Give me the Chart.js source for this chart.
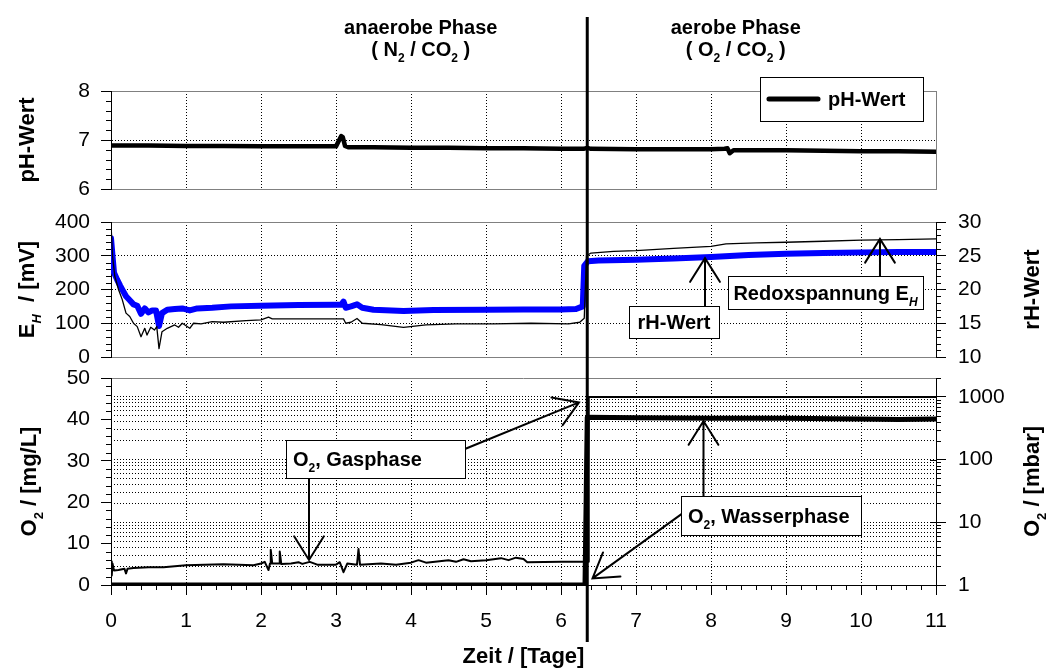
<!DOCTYPE html>
<html lang="de">
<head>
<meta charset="UTF-8">
<title>Anaerobe / aerobe Phase</title>
<script src="https://cdn.jsdelivr.net/npm/chart.js"></script>
<style>
    body { margin: 0; background: #fff; }
    #wrap { position: relative; width: 1048px; height: 671px; overflow: hidden; }
    #wrap canvas { position: absolute; left: 0; }
    #cPh { top: 0; }
    #cEh { top: 205px; }
    #cO2 { top: 368px; }
</style>
</head>
<body>
<div id="wrap">
    <canvas id="cPh" width="1048" height="205"></canvas>
    <canvas id="cEh" width="1048" height="163"></canvas>
    <canvas id="cO2" width="1048" height="303"></canvas>
</div>
<script>
// ---- data (x = Zeit in Tagen) ----
const phDays   = [0, 0.5, 1.0, 1.5, 2.0, 2.5, 3.0, 3.07, 3.09, 3.12, 3.17, 3.5, 4.0, 4.5, 5.0, 5.5, 6.0, 6.3, 6.35, 6.4, 7.0, 7.5, 8.0, 8.18, 8.22, 8.25, 8.3, 9.0, 9.5, 10.0, 10.5, 11.0];
const phValues = [6.89, 6.89, 6.88, 6.88, 6.87, 6.87, 6.87, 7.08, 7.06, 6.88, 6.85, 6.85, 6.84, 6.84, 6.83, 6.83, 6.82, 6.82, 6.84, 6.82, 6.81, 6.81, 6.81, 6.82, 6.83, 6.73, 6.79, 6.79, 6.78, 6.77, 6.77, 6.76];

// Redoxspannung E_H [mV] (thin black, left axis)
const ehDays   = [0, 0.02, 0.05, 0.1, 0.15, 0.2, 0.25, 0.3, 0.35, 0.4, 0.45, 0.48, 0.53, 0.58, 0.61, 0.64, 0.68, 0.75, 0.85, 0.9, 0.95, 1.05, 1.1, 1.2, 1.35, 1.5, 1.8, 2.0, 2.1, 2.15, 2.6, 3.1, 3.13, 3.2, 3.28, 3.35, 3.6, 3.9, 4.2, 4.6, 5.1, 5.6, 6.1, 6.25, 6.31, 6.34, 6.4, 6.7, 7.0, 7.5, 8.0, 8.2, 8.6, 9.0, 9.5, 10.0, 10.5, 11.0];
const ehValues = [395, 300, 240, 200, 170, 130, 120, 100, 90, 60, 85, 65, 88, 80, 90, 25, 75, 85, 95, 88, 100, 85, 100, 98, 105, 103, 108, 110, 118, 113, 113, 113, 100, 103, 114, 100, 96, 88, 95, 98, 98, 100, 98, 103, 115, 300, 308, 313, 315, 322, 328, 335, 338, 340, 343, 346, 348, 350];

// rH-Wert (thick blue, right axis)
const rhDays   = [0, 0.02, 0.04, 0.08, 0.12, 0.16, 0.2, 0.25, 0.3, 0.35, 0.4, 0.45, 0.5, 0.55, 0.6, 0.64, 0.68, 0.75, 0.85, 0.95, 1.05, 1.15, 1.35, 1.6, 2.0, 2.5, 3.0, 3.07, 3.1, 3.13, 3.2, 3.28, 3.35, 3.5, 3.9, 4.3, 5.0, 5.5, 6.0, 6.2, 6.29, 6.31, 6.36, 6.5, 7.0, 7.5, 8.0, 8.5, 9.0, 9.5, 10.0, 10.5, 11.0];
const rhValues = [27.6, 25.0, 22.5, 21.5, 20.6, 19.8, 19.0, 18.4, 17.8, 17.6, 16.4, 17.2, 16.6, 16.9, 16.9, 14.6, 16.5, 17.0, 17.1, 17.2, 16.9, 17.2, 17.3, 17.5, 17.6, 17.7, 17.75, 17.75, 18.2, 17.3, 17.5, 17.8, 17.3, 17.0, 16.8, 16.95, 17.0, 17.05, 17.05, 17.1, 17.5, 23.5, 24.2, 24.3, 24.4, 24.6, 24.8, 25.1, 25.3, 25.4, 25.5, 25.55, 25.55];

// O2 Gasphase [mbar] (thin black, right log axis)
const gasDays   = [0, 0.01, 0.02, 0.04, 0.1, 0.18, 0.2, 0.22, 0.3, 0.5, 0.7, 1.0, 1.5, 1.9, 2.0, 2.05, 2.1, 2.12, 2.13, 2.15, 2.24, 2.25, 2.27, 2.4, 2.5, 2.55, 2.65, 2.75, 3.0, 3.05, 3.1, 3.15, 3.28, 3.3, 3.32, 3.6, 3.8, 4.0, 4.1, 4.2, 4.5, 4.6, 4.7, 4.8, 5.0, 5.2, 5.3, 5.4, 5.5, 5.55, 6.0, 6.36, 6.37, 11.0];
const gasValues = [2.38, 1.42, 2.2, 1.70, 1.73, 1.81, 1.53, 1.81, 1.86, 1.92, 1.92, 2.07, 2.14, 2.07, 2.20, 2.34, 1.73, 2.2, 3.64, 2.2, 2.2, 3.42, 2.17, 2.20, 2.31, 2.17, 2.34, 2.11, 2.11, 2.31, 1.60, 2.20, 2.11, 3.75, 2.11, 2.20, 2.11, 2.27, 2.49, 2.27, 2.49, 2.34, 2.57, 2.40, 2.49, 2.68, 2.49, 2.73, 2.60, 2.31, 2.34, 2.34, 1000, 1000];

// O2 Wasserphase [mg/L] (thick black, left axis)
const waterDays   = [0, 6.32, 6.35, 7.0, 8.0, 9.0, 10.0, 10.5, 11.0];
const waterValues = [0, 0, 40.5, 40.4, 40.3, 40.3, 40.1, 40.0, 40.1];

const phaseDay = 6.35;   // switch anaerobe -> aerobe
const logTicks  = [1, 2, 3, 4, 5, 6, 7, 8, 9, 10, 20, 30, 40, 50, 60, 70, 80, 90, 100, 200, 300, 400, 500, 600, 700, 800, 900, 1000, 2000];
const logLabels = [1, 10, 100, 1000];

// ---- styling helpers ----
const FAMILY = '"Liberation Sans", Arial, Helvetica, sans-serif';
const GREY = '#808080';
const DOT = [1, 2];
const TICK_FONT = { family: FAMILY, size: 21 };
Chart.defaults.font.family = FAMILY;
Chart.defaults.color = '#000';

function pts(xs, ys) { return xs.map((x, i) => ({ x: x, y: ys[i] })); }

// values from a to b in steps, leaving out multiples of skip
function steps(a, b, step, skip) {
    const out = [];
    for (let i = 0; a + i * step <= b + 1e-9; i++) {
        const v = +(a + i * step).toFixed(6);
        if (!skip || Math.abs(v / skip - Math.round(v / skip)) > 1e-6) out.push(v);
    }
    return out;
}

function fontFor(kind, size) {
    if (kind === 'sub') return 'bold ' + Math.round(size * 0.6) + 'px ' + FAMILY;
    if (kind === 'isub') return 'italic bold ' + Math.round(size * 0.6) + 'px ' + FAMILY;
    return 'bold ' + size + 'px ' + FAMILY;
}

// parts: [[text, ''|'sub'|'isub'], ...], y = baseline
function drawRich(ctx, parts, x, y, size, align) {
    ctx.textBaseline = 'alphabetic';
    ctx.textAlign = 'left';
    let w = 0;
    parts.forEach(p => { ctx.font = fontFor(p[1], size); w += ctx.measureText(p[0]).width; });
    let cx = align === 'center' ? x - w / 2 : x;
    parts.forEach(p => {
        ctx.font = fontFor(p[1], size);
        ctx.fillText(p[0], cx, y + (p[1] ? size * 0.3 : 0));
        cx += ctx.measureText(p[0]).width;
    });
}

function vTitle(ctx, parts, x, y, size) {
    ctx.save();
    ctx.translate(x, y);
    ctx.rotate(-Math.PI / 2);
    ctx.fillStyle = '#000';
    drawRich(ctx, parts, 0, size * 0.36, size, 'center');
    ctx.restore();
}

function arrow(ctx, x1, y1, x2, y2) {
    const a = Math.atan2(y1 - y2, x1 - x2), L = 28, h = 0.56;
    ctx.beginPath();
    ctx.moveTo(x1, y1); ctx.lineTo(x2, y2);
    ctx.moveTo(x2 + L * Math.cos(a + h), y2 + L * Math.sin(a + h));
    ctx.lineTo(x2, y2);
    ctx.lineTo(x2 + L * Math.cos(a - h), y2 + L * Math.sin(a - h));
    ctx.stroke();
}

// annotation: box [x0, x1, yTop, yBottom] and arrows in data units
function note(chart, ctx, yId, n) {
    const xs = chart.scales.x, ys = chart.scales[yId];
    ctx.strokeStyle = '#000';
    ctx.lineWidth = 2;
    ctx.lineCap = 'round';
    n.arrows.forEach(a => arrow(ctx, xs.getPixelForValue(a[0]), ys.getPixelForValue(a[1]), xs.getPixelForValue(a[2]), ys.getPixelForValue(a[3])));
    const x0 = Math.round(xs.getPixelForValue(n.box[0])), x1 = Math.round(xs.getPixelForValue(n.box[1]));
    const y0 = Math.round(ys.getPixelForValue(n.box[2])), y1 = Math.round(ys.getPixelForValue(n.box[3]));
    ctx.fillStyle = '#fff';
    ctx.fillRect(x0, y0, x1 - x0, y1 - y0);
    ctx.lineWidth = 1;
    ctx.strokeRect(x0 + 0.5, y0 + 0.5, x1 - x0, y1 - y0);
    ctx.fillStyle = '#000';
    const tx = n.align === 'center' ? (x0 + x1) / 2 : x0 + 7;
    drawRich(ctx, n.text, tx, (y0 + y1) / 2 + 20 * 0.36, 20, n.align);
}

function phaseLine(chart, ctx, y0, y1) {
    const x = chart.scales.x.getPixelForValue(phaseDay);
    ctx.strokeStyle = '#000';
    ctx.lineWidth = 3;
    ctx.beginPath(); ctx.moveTo(x, y0); ctx.lineTo(x, y1); ctx.stroke();
}

// short tick marks the library has no option for
function minorTicks(chart, ctx, id, values, len, inner) {
    const s = chart.scales[id];
    ctx.strokeStyle = '#000';
    ctx.lineWidth = 1;
    ctx.beginPath();
    values.forEach(v => {
        const p = Math.round(s.getPixelForValue(v)) + 0.5;
        if (s.isHorizontal()) { ctx.moveTo(p, s.top); ctx.lineTo(p, s.top + len); }
        else if (s.position === 'left') { ctx.moveTo(s.right + (inner || 0), p); ctx.lineTo(s.right - len, p); }
        else { ctx.moveTo(s.left - (inner || 0), p); ctx.lineTo(s.left + len, p); }
    });
    ctx.stroke();
}

function decor(draw) {
    return { id: 'decor', afterDraw(chart) { const ctx = chart.ctx; ctx.save(); draw(chart, ctx); ctx.restore(); } };
}

function xAxis(labels, height, borderColor) {
    return {
        type: 'linear', min: 0, max: 11,
        ticks: { stepSize: 1, display: labels, autoSkip: false, maxRotation: 0, padding: 14, font: TICK_FONT, color: '#000' },
        grid: {
            color: c => !c.tick || c.tick.value === 0 ? 'rgba(0,0,0,0)' : (c.tick.value === 11 ? GREY : '#000'),
            drawTicks: labels, tickLength: 10, tickColor: '#000', lineWidth: 1
        },
        border: { color: borderColor, dash: c => (c.tick && c.tick.value > 0 && c.tick.value < 11) ? DOT : [] },
        afterFit: s => { s.height = height; s.paddingLeft = 0; s.paddingRight = 0; }
    };
}

function yAxis(pos, min, max, step, onArea, dotted) {
    return {
        type: 'linear', position: pos, min: min, max: max,
        ticks: { stepSize: step, padding: pos === 'left' ? 11 : 12, font: TICK_FONT, color: '#000', autoSkip: false },
        grid: {
            drawOnChartArea: onArea,
            color: c => c.tick && dotted(c.tick.value) ? '#000' : GREY,
            tickLength: 10, tickColor: '#000', lineWidth: 1
        },
        border: { color: '#000', dash: c => (c.tick && dotted(c.tick.value)) ? DOT : [] },
        afterFit: s => { s.width = pos === 'left' ? 111 : 112; s.paddingTop = 0; s.paddingBottom = 0; }
    };
}

const base = {
    responsive: false, animation: false, events: [],
    plugins: { legend: { display: false }, tooltip: { enabled: false } },
    elements: { point: { radius: 0 }, line: { tension: 0, borderJoinStyle: 'round', borderCapStyle: 'round' } }
};

// ---- pH panel ----
new Chart(document.getElementById('cPh'), {
    type: 'line',
    data: { datasets: [{ data: pts(phDays, phValues), borderColor: '#000', borderWidth: 4.5 }] },
    options: Object.assign({}, base, {
        layout: { padding: { top: 91, right: 112, left: 0, bottom: 0 } },
        scales: { x: xAxis(false, 16, GREY), y: yAxis('left', 6, 8, 1, true, v => v === 7) }
    }),
    plugins: [decor((chart, ctx) => {
        const xs = chart.scales.x, ys = chart.scales.y, a = chart.chartArea;
        minorTicks(chart, ctx, 'y', steps(6, 8, 0.2, 1), 5);
        phaseLine(chart, ctx, 17, 205);
        ctx.fillStyle = '#000';
        drawRich(ctx, [['anaerobe Phase', '']], xs.getPixelForValue(4.13), 34, 20, 'center');
        drawRich(ctx, [['( N', ''], ['2', 'sub'], [' / CO', ''], ['2', 'sub'], [' )', '']], xs.getPixelForValue(4.13), 56, 20, 'center');
        drawRich(ctx, [['aerobe Phase', '']], xs.getPixelForValue(8.33), 34, 20, 'center');
        drawRich(ctx, [['( O', ''], ['2', 'sub'], [' / CO', ''], ['2', 'sub'], [' )', '']], xs.getPixelForValue(8.33), 56, 20, 'center');
        vTitle(ctx, [['pH-Wert', '']], 26, (a.top + a.bottom) / 2, 22);
        // legend
        const lx0 = Math.round(xs.getPixelForValue(8.653)), lx1 = Math.round(xs.getPixelForValue(10.827));
        const ly0 = Math.round(ys.getPixelForValue(8.286)), ly1 = Math.round(ys.getPixelForValue(7.388));
        const ly = ys.getPixelForValue(7.837);
        ctx.fillStyle = '#fff';
        ctx.fillRect(lx0, ly0, lx1 - lx0, ly1 - ly0);
        ctx.strokeStyle = '#000'; ctx.lineWidth = 1;
        ctx.strokeRect(lx0 + 0.5, ly0 + 0.5, lx1 - lx0, ly1 - ly0);
        ctx.lineWidth = 5; ctx.lineCap = 'round';
        ctx.beginPath(); ctx.moveTo(xs.getPixelForValue(8.773), ly); ctx.lineTo(xs.getPixelForValue(9.427), ly); ctx.stroke();
        ctx.fillStyle = '#000';
        drawRich(ctx, [['pH-Wert', '']], xs.getPixelForValue(9.56), ly + 20 * 0.36, 20, 'left');
    })]
});

// ---- E_H / rH panel ----
new Chart(document.getElementById('cEh'), {
    type: 'line',
    data: { datasets: [
        { data: pts(ehDays, ehValues), borderColor: '#000', borderWidth: 1.3, yAxisID: 'y' },
        { data: pts(rhDays, rhValues), borderColor: '#0000ff', borderWidth: 6, yAxisID: 'y2' }
    ] },
    options: Object.assign({}, base, {
        layout: { padding: { top: 17, right: 0, left: 0, bottom: 0 } },
        scales: {
            x: xAxis(false, 11, GREY),
            y: yAxis('left', 0, 400, 100, true, v => v > 0 && v < 400),
            y2: yAxis('right', 10, 30, 5, false, v => false)
        }
    }),
    plugins: [decor((chart, ctx) => {
        const a = chart.chartArea;
        minorTicks(chart, ctx, 'y', steps(0, 400, 20, 100), 5);
        minorTicks(chart, ctx, 'y2', steps(10, 30, 1, 5), 5);
        phaseLine(chart, ctx, 0, 163);
        note(chart, ctx, 'y', { text: [['rH-Wert', '']], box: [6.907, 8.107, 151, 56], align: 'center', arrows: [[7.92, 151, 7.92, 293]] });
        note(chart, ctx, 'y', { text: [['Redoxspannung E', ''], ['H', 'isub']], box: [8.227, 10.827, 240, 142], align: 'center', arrows: [[10.253, 240, 10.253, 350]] });
        vTitle(ctx, [['E', ''], ['H', 'isub'], ['  / [mV]', '']], 26, (a.top + a.bottom) / 2, 22);
        vTitle(ctx, [['rH-Wert', '']], 1031, (a.top + a.bottom) / 2, 22);
    })]
});

// ---- O2 panel ----
new Chart(document.getElementById('cO2'), {
    type: 'line',
    data: { datasets: [
        { data: pts(gasDays, gasValues), borderColor: '#000', borderWidth: 2, yAxisID: 'y2' },
        { data: pts(waterDays, waterValues), borderColor: '#000', borderWidth: 5, yAxisID: 'y' }
    ] },
    options: Object.assign({}, base, {
        layout: { padding: { top: 10, right: 0, left: 0, bottom: 0 } },
        scales: {
            x: xAxis(true, 86, '#000'),
            y: yAxis('left', 0, 50, 10, false, v => false),
            y2: {
                type: 'logarithmic', position: 'right', min: 1, max: 2000,
                afterBuildTicks: s => { s.ticks = logTicks.map(v => ({ value: v, major: logLabels.includes(v) })); },
                ticks: { padding: 12, font: TICK_FONT, color: '#000', autoSkip: false,
                         callback: v => logLabels.includes(v) ? String(v) : '' },
                grid: {
                    color: c => !c.tick || c.tick.value === 1 ? 'rgba(0,0,0,0)' : (c.tick.value === 2000 ? GREY : '#000'),
                    tickColor: c => c.tick && logLabels.includes(c.tick.value) ? '#000' : 'rgba(0,0,0,0)',
                    tickLength: 10, lineWidth: 1
                },
                border: { color: '#000', dash: c => (c.tick && c.tick.value > 1 && c.tick.value < 2000) ? DOT : [] },
                afterFit: s => { s.width = 112; s.paddingTop = 0; s.paddingBottom = 0; }
            }
        }
    }),
    plugins: [decor((chart, ctx) => {
        const a = chart.chartArea;
        minorTicks(chart, ctx, 'x', steps(0, 11, 0.2, 1), 5);
        minorTicks(chart, ctx, 'y', steps(0, 50, 2, 10), 5);
        minorTicks(chart, ctx, 'y2', logTicks.filter(v => !logLabels.includes(v)), 5);
        minorTicks(chart, ctx, 'y2', logLabels, 0, 6);
        phaseLine(chart, ctx, 0, 274);
        note(chart, ctx, 'y', { text: [['O', ''], ['2', 'sub'], [', Gasphase', '']], box: [2.33, 4.72, 35.0, 25.8], align: 'left',
            arrows: [[2.64, 25.8, 2.64, 6.05], [4.71, 32.8, 6.24, 44.1]] });
        note(chart, ctx, 'y', { text: [['O', ''], ['2', 'sub'], [', Wasserphase', '']], box: [7.6, 10.0, 21.4, 12.1], align: 'left',
            arrows: [[7.9, 21.4, 7.9, 39.6], [7.62, 17.3, 6.42, 1.6]] });
        vTitle(ctx, [['O', ''], ['2', 'sub'], [' / [mg/L]', '']], 28, (a.top + a.bottom) / 2, 22);
        vTitle(ctx, [['O', ''], ['2', 'sub'], [' / [mbar]', '']], 1031, (a.top + a.bottom) / 2, 22);
        ctx.fillStyle = '#000';
        drawRich(ctx, [['Zeit / [Tage]', '']], (a.left + a.right) / 2, 295, 22, 'center');
    })]
});
</script>
</body>
</html>
